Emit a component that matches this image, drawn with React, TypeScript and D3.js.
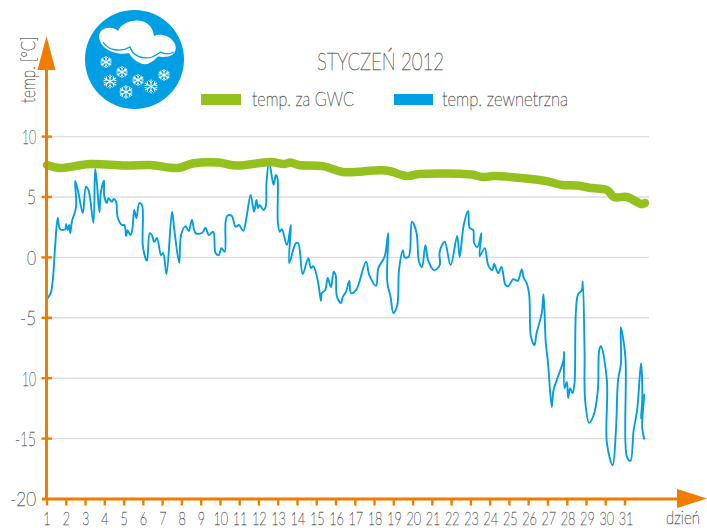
import React from "react";
import * as d3 from "d3";

const W = 707, H = 528;
const dayLabels = d3.range(1, 32).map(String);
const yTicks = [10, 5, 0, -5, -10, -15, -20];
const gridTicks = [10, 5, 0, -5, -10, -15];
const title = "STYCZEŃ 2012";
const seriesNames = ["temp. za GWC", "temp. zewnetrzna"];
const gwcDays = [1,1.68,3.24,5.06,6.36,7.82,8.55,9.91,10.84,12.61,13.29,13.65,14.07,15.32,16.36,18.6,19.7,20.32,23.03,23.65,24.18,25.63,26.93,27.72,28.5,29.28,30.06,30.43,31.1,31.88,32.04];
const gwcTemp = [7.65,7.4,7.73,7.6,7.65,7.4,7.77,7.85,7.6,7.9,7.73,7.85,7.65,7.56,7.07,7.19,6.73,6.9,6.86,6.65,6.74,6.57,6.32,6,5.95,5.74,5.58,5,5,4.41,4.5];
const outDays = [1,1.19,1.3,1.42,1.56,1.68,1.94,1.99,2.08,2.15,2.21,2.29,2.51,2.46,2.6,2.86,3.02,3.15,3.41,3.5,3.59,3.72,3.8,3.96,3.97,4.11,4.19,4.37,4.46,4.59,4.66,4.89,5.01,5.11,5.18,5.32,5.41,5.53,5.64,5.79,5.93,5.98,6.19,6.33,6.44,6.57,6.71,6.92,7.03,7.2,7.49,7.61,7.86,7.96,8.19,8.36,8.52,8.71,9.06,9.23,9.4,9.63,9.75,9.92,10.05,10.22,10.27,10.36,10.58,10.79,10.96,11.19,11.36,11.57,11.75,11.87,11.95,12.04,12.23,12.35,12.39,12.53,12.76,12.88,12.96,12.98,13.08,13.19,13.45,13.66,13.57,13.92,14.04,14.27,14.56,14.7,14.82,15.05,15.22,15.26,15.44,15.57,15.74,15.88,15.98,16.05,16.26,16.35,16.52,16.69,16.78,17.04,17.56,17.73,18.08,18.2,18.52,18.71,18.66,18.83,18.98,19.18,19.27,19.47,19.56,19.77,19.94,20.17,20.31,20.46,20.64,20.78,21.09,21.38,21.38,21.64,21.95,22.29,22.42,22.63,22.86,22.94,23.12,23.17,23.34,23.55,23.46,23.72,23.9,24.11,24.21,24.42,24.59,24.8,24.94,25.2,25.43,25.64,25.75,25.89,26.03,26.12,26.3,26.41,26.68,26.77,26.89,26.99,27.2,27.29,27.81,27.84,27.86,27.98,28.05,28.15,28.28,28.38,28.55,28.76,28.81,28.9,28.93,29.14,29.37,29.59,29.66,29.75,30.06,30.06,30.36,30.53,30.64,30.79,30.78,31.02,31.1,31.28,31.45,31.63,31.83,31.9,31.83,32,31.89,32];
const outTemp = [-3.45,-2.96,-1.88,0.88,3.26,2.34,2.32,2.76,2.26,2.68,2.01,2.95,4.19,6.32,5.58,3.67,5.85,5.58,2.87,7.32,6.16,3.75,5.44,6.35,5.1,4.5,4.91,4.6,4.83,4.6,3.37,2.68,2.68,1.76,2.26,1.85,2.12,3.92,3.26,4.5,4.33,0.88,-0.28,2.01,1.85,1.29,1.6,0.19,0.36,-1.38,3.78,2.26,-0.45,1.85,2.59,2.18,3.09,2.01,2.04,2.43,1.85,2.12,0.36,0.19,0.77,0.46,2.95,3.45,3.45,2.53,2.68,2.2,3.37,5.17,3.78,4.75,4.09,4.34,3.92,4.19,6.16,7.9,6,6.82,6.57,2.95,2.12,2.34,1.02,2.68,-0.47,1.18,1.18,-1.38,-0.06,-0.89,-0.72,-1.88,-3.6,-2.96,-2.71,-1.71,-2.46,-1.19,-1.47,-3.26,-3.78,-3.26,-2.85,-1.94,-2.96,-2.71,-0.36,-1.47,-2.35,-0.89,0.05,2.01,-2.02,-3.26,-4.61,-3.95,-1.05,0.6,0.02,0.05,2.95,2.12,-0.36,-0.8,1.02,-0.22,-1.05,-0.64,0.46,1.29,-0.64,1.77,0.05,2.68,3.84,2.43,2.26,1.19,0.85,2.01,0.1,0.77,-0.64,-1.05,-0.55,-1.3,-0.78,-2.3,-2.38,-1.8,-1.94,-1,-1.71,-2.1,-3.12,-6.58,-7.27,-6.27,-4.62,-3.05,-7.1,-8.5,-12.38,-11,-8.5,-7.82,-10.83,-10.3,-11.65,-10.83,-11.24,-10.41,-3.12,-2.71,-2.02,-7.68,-11.82,-13.7,-13.07,-11,-7.68,-7.35,-10.16,-15.38,-17.2,-14.3,-10.16,-8.76,-5.77,-8.23,-16.52,-16.85,-14.3,-12.65,-8.76,-11.55,-13.32,-11.33,-14.03,-15.08];
const flakes: [number, number, number][] = [[106,62,6],[122,72,6],[110,81.5,7],[126,92,7],[138,80,6],[151,86.5,7],[164,75,6]];

const x = d3.scaleLinear().domain([1, 31]).range([47, 625]);
const y = d3.scaleLinear().domain([-20, 10]).range([499, 136.6]);
const gwcLine = d3.line<number>().x((_, i) => x(gwcDays[i])).y(d => y(d)).curve(d3.curveCatmullRom.alpha(0.5))(gwcTemp)!;
const outLine = d3.line<number>().x((_, i) => x(outDays[i])).y(d => y(d)).curve(d3.curveCatmullRom.alpha(0.5))(outTemp)!;

const FONT = "Lato, 'Open Sans', sans-serif";
const INK = "#505050", ORANGE = "#f07d00", BLUE = "#009fe3", GREEN = "#95c11f";

function T({ x: tx, y: ty, w, size, anchor = "start", children, rotate }: any) {
  return (
    <text x={rotate ? 0 : tx} y={rotate ? 0 : ty} transform={rotate ? `translate(${tx},${ty}) rotate(${rotate})` : undefined}
      fontFamily={FONT} fontWeight={100} fontSize={size} fill={INK} stroke={INK} strokeWidth={0.45} textAnchor={anchor}
      textLength={w} lengthAdjust="spacingAndGlyphs">{children}</text>
  );
}

function Flake({ cx, cy, r }: { cx: number; cy: number; r: number }) {
  return (
    <g transform={`translate(${cx},${cy})`} stroke="#fff" strokeWidth={1} fill="none">
      {d3.range(6).map(i => (
        <g key={i} transform={`rotate(${i * 60})`}>
          <path d={`M0 0V${-r}M${-r * 0.35} ${-r * 0.85}L0 ${-r * 0.5}L${r * 0.35} ${-r * 0.85}`} />
        </g>
      ))}
    </g>
  );
}

const tickWidth = (s: string) => (s === "-20" ? 26 : s === "-15" ? 21 : s === "-5" ? 16 : s === "10" ? 14 : 9);

export default function App() {
  return (
    <svg width={W} height={H} viewBox={`0 0 ${W} ${H}`} style={{ position: "absolute", left: 0, top: 0, background: "#fff" }}>
      {gridTicks.map(t => <line key={t} x1={50} x2={649} y1={y(t)} y2={y(t)} stroke="#dddddd" strokeWidth={1.4} />)}
      <path d={outLine} fill="none" stroke={BLUE} strokeWidth={1.9} strokeLinejoin="round" />
      <path d={gwcLine} fill="none" stroke={GREEN} strokeWidth={8.5} strokeLinecap="round" strokeLinejoin="round" />

      <line x1={46.5} x2={46.5} y1={60} y2={500} stroke={ORANGE} strokeWidth={3} />
      <path d="M46.5 36L55.5 70H37.5Z" fill={ORANGE} />
      <line x1={42} x2={680} y1={499} y2={499} stroke={ORANGE} strokeWidth={3} />
      <path d="M707 498.5L677 489V508Z" fill={ORANGE} />
      {yTicks.slice(0, -1).map(t => <line key={t} x1={41.5} x2={52} y1={y(t)} y2={y(t)} stroke={ORANGE} strokeWidth={2.4} />)}
      {dayLabels.map((d, i) => <line key={d} x1={x(i + 1)} x2={x(i + 1)} y1={499} y2={505.5} stroke={ORANGE} strokeWidth={2.4} />)}

      {yTicks.map(t => {
        const s = t === -10 ? "10" : String(t);
        return <T key={t} x={36} y={y(t) + 7.4} size={20.5} anchor="end" w={tickWidth(s)}>{s}</T>;
      })}
      {dayLabels.map((d, i) => (
        <text key={d} transform={`translate(${47 + i * 19.3},524.5) scale(0.7,1)`} fontFamily={FONT} fontWeight={100}
          fontSize={18} fill={INK} stroke={INK} strokeWidth={0.45} textAnchor="middle">{d}</text>
      ))}
      <T x={666} y={524} size={18} w={34}>dzień</T>
      <T x={35} y={103} size={20} rotate={-90} w={66.5}>temp. [°C]</T>
      <T x={317} y={69.5} size={24} w={127}>{title}</T>
      <rect x={201} y={94} width={40} height={11} fill={GREEN} />
      <T x={252} y={105.5} size={19.5} w={102}>{seriesNames[0]}</T>
      <rect x={394} y={94} width={39} height={11} fill={BLUE} />
      <T x={442} y={105.5} size={19.5} w={126}>{seriesNames[1]}</T>

      <circle cx={134.5} cy={59.5} r={49.5} fill={BLUE} />
      <path d="M102 30C107 27 114 27 118 31C121 24 130 20 138 20.5C147 21 153 27 154 36C160 33 170 36 173 41C177 45 177 53 171 55.5C166 57.5 162 57 158 56.5C152 63 146 66 140 63C135 61 131 57 129 53C122 55 110 53 104 47C99 42 97 34 102 30Z" fill="#fff" />
      <path d="M103 42C108 50 120 53 130 47C132 55 142 60 152 57C157 55 159 53 161 52C165 55 170 54 174 52" fill="none" stroke={BLUE} strokeWidth={1.3} />
      {flakes.map(([cx, cy, r], i) => <Flake key={i} cx={cx} cy={cy} r={r} />)}
    </svg>
  );
}
